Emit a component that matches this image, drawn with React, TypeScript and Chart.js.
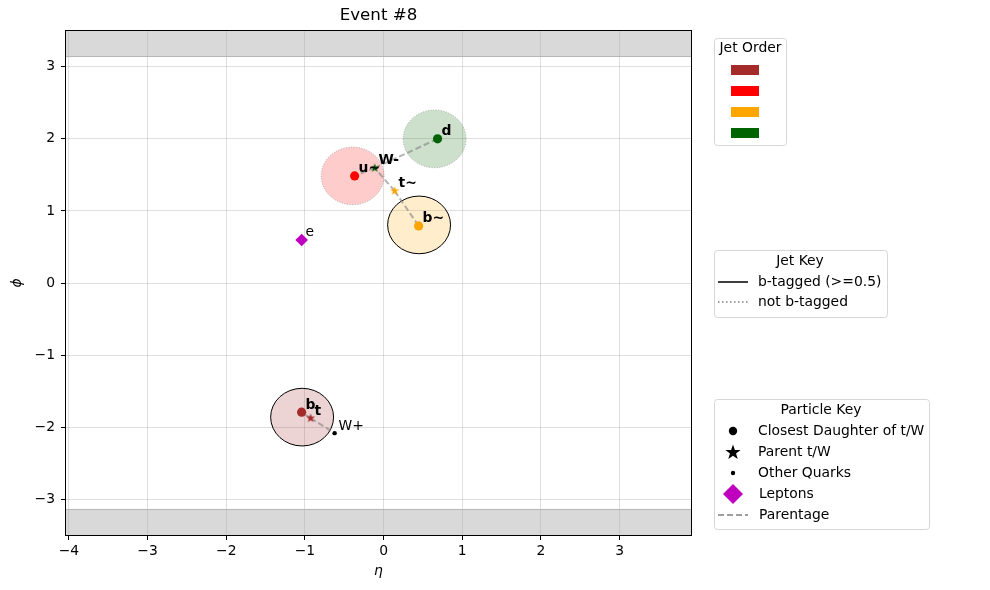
import React, { useEffect, useRef } from 'react';
import { Chart, registerables } from 'chart.js';

Chart.register(...registerables);

const FONT = '"DejaVu Sans", sans-serif';

// ---- Data ----
const title = 'Event #8';
const xTicks = [-4, -3, -2, -1, 0, 1, 2, 3];
const yTicks = [-3, -2, -1, 0, 1, 2, 3];

const jetEta = [-1.036, -0.394, 0.451, 0.648];
const jetPhi = [-1.861, 1.486, 0.806, 2.0];
const jetBTagged = [true, false, true, false];
const jetColors = ['#a52a2a', '#ff0000', '#ffa500', '#006400'];
const jetFills = ['rgba(165,42,42,0.2)', 'rgba(255,0,0,0.2)', 'rgba(255,165,0,0.2)', 'rgba(0,100,0,0.2)'];
const jetRadius = 0.4;

const daughterNames = ['b', 'u~', 'b~', 'd'];
const daughterEta = [-1.042, -0.368, 0.445, 0.686];
const daughterPhi = [-1.792, 1.486, 0.792, 2.0];

const parentNames = ['t', 'W-', 't~'];
const parentEta = [-0.928, -0.114, 0.14];
const parentPhi = [-1.875, 1.597, 1.278];
const parentColors = ['#a52a2a', '#006400', '#ffa500'];

const otherNames = ['W+'];
const otherEta = [-0.623];
const otherPhi = [-2.083];

const leptonNames = ['e'];
const leptonEta = [-1.042];
const leptonPhi = [0.597];

const parentageFrom = ['t', 't', 't~', 't~', 'W-', 'W-'];
const parentageTo = ['b', 'W+', 'b~', 'W-', 'u~', 'd'];

const jetKeyLabels = ['b-tagged (>=0.5)', 'not b-tagged'];
const particleKeyLabels = ['Closest Daughter of t/W', 'Parent t/W', 'Other Quarks', 'Leptons', 'Parentage'];

// ---- helpers ----
function drawStar(ctx: CanvasRenderingContext2D, x: number, y: number, r: number, color: string) {
  ctx.beginPath();
  for (let i = 0; i < 10; i++) {
    const a = -Math.PI / 2 + (i * Math.PI) / 5;
    const rr = i % 2 === 0 ? r : r * 0.4;
    ctx.lineTo(x + rr * Math.cos(a), y + rr * Math.sin(a));
  }
  ctx.closePath();
  ctx.fillStyle = color;
  ctx.fill();
}

function starCanvas(r: number, color: string) {
  const s = Math.ceil(r * 2 + 2);
  const c = document.createElement('canvas');
  c.width = s;
  c.height = s;
  const ctx = c.getContext('2d')!;
  drawStar(ctx, s / 2, s / 2, r, color);
  return c;
}

function roundRect(ctx: CanvasRenderingContext2D, x: number, y: number, w: number, h: number, r: number) {
  ctx.beginPath();
  ctx.moveTo(x + r, y);
  ctx.lineTo(x + w - r, y);
  ctx.arcTo(x + w, y, x + w, y + r, r);
  ctx.lineTo(x + w, y + h - r);
  ctx.arcTo(x + w, y + h, x + w - r, y + h, r);
  ctx.lineTo(x + r, y + h);
  ctx.arcTo(x, y + h, x, y + h - r, r);
  ctx.lineTo(x, y + r);
  ctx.arcTo(x, y, x + r, y, r);
  ctx.closePath();
}

const fmt = (v: number) => (v < 0 ? '\u2212' + Math.abs(v) : String(v));

export default function App() {
  const ref = useRef<HTMLCanvasElement | null>(null);

  useEffect(() => {
    const canvas = ref.current!;
    const pos: Record<string, { x: number; y: number }> = {};
    daughterNames.forEach((n, i) => (pos[n] = { x: daughterEta[i], y: daughterPhi[i] }));
    parentNames.forEach((n, i) => (pos[n] = { x: parentEta[i], y: parentPhi[i] }));
    otherNames.forEach((n, i) => (pos[n] = { x: otherEta[i], y: otherPhi[i] }));
    leptonNames.forEach((n, i) => (pos[n] = { x: leptonEta[i], y: leptonPhi[i] }));

    const lineSets = parentageFrom.map((f, i) => ({
      label: 'parentage',
      data: [pos[f], pos[parentageTo[i]]],
      showLine: true,
      pointRadius: 0,
      borderColor: 'rgba(128,128,128,0.6)',
      borderWidth: 2,
      borderDash: [6, 3],
      order: 5,
    }));

    const bandPlugin = {
      id: 'bands',
      beforeDraw(chart: any) {
        const { ctx, chartArea: a, scales } = chart;
        const y = scales.y;
        const pTop = y.getPixelForValue(Math.PI);
        const pBot = y.getPixelForValue(-Math.PI);
        ctx.save();
        ctx.fillStyle = 'rgba(128,128,128,0.3)';
        ctx.fillRect(a.left, a.top, a.right - a.left, pTop - a.top);
        ctx.fillRect(a.left, pBot, a.right - a.left, a.bottom - pBot);
        ctx.strokeStyle = 'rgba(128,128,128,0.5)';
        ctx.lineWidth = 1;
        ctx.beginPath();
        ctx.moveTo(a.left, pTop);
        ctx.lineTo(a.right, pTop);
        ctx.moveTo(a.left, pBot);
        ctx.lineTo(a.right, pBot);
        ctx.stroke();
        ctx.restore();
      },
    };

    const jetPlugin = {
      id: 'jets',
      beforeDatasetsDraw(chart: any) {
        const { ctx, chartArea: a, scales } = chart;
        const xs = scales.x, ys = scales.y;
        ctx.save();
        ctx.beginPath();
        ctx.rect(a.left, a.top, a.right - a.left, a.bottom - a.top);
        ctx.clip();
        jetEta.forEach((eta, i) => {
          const cx = xs.getPixelForValue(eta);
          const cy = ys.getPixelForValue(jetPhi[i]);
          const rx = Math.abs(xs.getPixelForValue(eta + jetRadius) - cx);
          const ry = Math.abs(ys.getPixelForValue(jetPhi[i] + jetRadius) - cy);
          ctx.beginPath();
          ctx.ellipse(cx, cy, rx, ry, 0, 0, Math.PI * 2);
          ctx.fillStyle = jetFills[i];
          ctx.fill();
          if (jetBTagged[i]) {
            ctx.setLineDash([]);
            ctx.strokeStyle = '#000';
            ctx.lineWidth = 1;
          } else {
            ctx.setLineDash([1, 1.6]);
            ctx.strokeStyle = 'rgba(128,128,128,0.6)';
            ctx.lineWidth = 1;
          }
          ctx.stroke();
        });
        ctx.restore();
      },
    };

    const labelPlugin = {
      id: 'labels',
      afterDatasetsDraw(chart: any) {
        const { ctx, chartArea: a, scales } = chart;
        const xs = scales.x, ys = scales.y;
        ctx.save();
        ctx.fillStyle = '#000';
        ctx.textBaseline = 'alphabetic';
        ctx.textAlign = 'left';
        const put = (n: string, eta: number, phi: number, bold: boolean) => {
          ctx.font = (bold ? 'bold ' : '') + '13.9px ' + FONT;
          ctx.fillText(n, xs.getPixelForValue(eta + 0.05), ys.getPixelForValue(phi + 0.05));
        };
        daughterNames.forEach((n, i) => put(n, daughterEta[i], daughterPhi[i], true));
        parentNames.forEach((n, i) => put(n, parentEta[i], parentPhi[i], true));
        otherNames.forEach((n, i) => put(n, otherEta[i], otherPhi[i], false));
        leptonNames.forEach((n, i) => put(n, leptonEta[i], leptonPhi[i], false));
        // frame
        ctx.strokeStyle = '#000';
        ctx.lineWidth = 1;
        ctx.strokeRect(a.left + 0.5, a.top + 0.5, a.right - a.left - 1, a.bottom - a.top - 1);
        ctx.restore();
      },
    };

    const legendPlugin = {
      id: 'customLegends',
      afterDraw(chart: any) {
        const ctx: CanvasRenderingContext2D = chart.ctx;
        ctx.save();
        const box = (x: number, y: number, w: number, h: number) => {
          roundRect(ctx, x + 0.5, y + 0.5, w, h, 3);
          ctx.fillStyle = 'rgba(255,255,255,0.8)';
          ctx.fill();
          ctx.strokeStyle = '#d6d6d6';
          ctx.lineWidth = 1;
          ctx.setLineDash([]);
          ctx.stroke();
        };
        const text = (t: string, x: number, y: number, align: CanvasTextAlign) => {
          ctx.font = '13.9px ' + FONT;
          ctx.fillStyle = '#000';
          ctx.textAlign = align;
          ctx.textBaseline = 'middle';
          ctx.fillText(t, x, y);
        };
        // Jet Order
        box(714, 38, 72, 107);
        text('Jet Order', 750.5, 48, 'center');
        jetColors.forEach((c, i) => {
          ctx.fillStyle = c;
          ctx.fillRect(731, 65 + i * 21, 28, 10);
        });
        // Jet Key
        box(714, 250, 173, 67);
        text('Jet Key', 800, 261, 'center');
        ctx.strokeStyle = '#000';
        ctx.lineWidth = 1.5;
        ctx.beginPath();
        ctx.moveTo(718, 282);
        ctx.lineTo(748, 282);
        ctx.stroke();
        text(jetKeyLabels[0], 758, 282, 'left');
        ctx.strokeStyle = '#808080';
        ctx.lineWidth = 1.5;
        ctx.setLineDash([1.5, 2.5]);
        ctx.beginPath();
        ctx.moveTo(718, 302);
        ctx.lineTo(748, 302);
        ctx.stroke();
        ctx.setLineDash([]);
        text(jetKeyLabels[1], 758, 302, 'left');
        // Particle Key
        box(714, 399, 215, 130);
        text('Particle Key', 821, 410, 'center');
        const rows = [431, 452, 473, 494, 515];
        ctx.fillStyle = '#000';
        ctx.beginPath();
        ctx.arc(733, rows[0], 4.2, 0, Math.PI * 2);
        ctx.fill();
        drawStar(ctx, 733, rows[1] + 0.5, 8, '#000');
        ctx.fillStyle = '#000';
        ctx.beginPath();
        ctx.arc(733, rows[2], 2.2, 0, Math.PI * 2);
        ctx.fill();
        ctx.fillStyle = '#bf00bf';
        ctx.beginPath();
        ctx.moveTo(733, rows[3] - 10);
        ctx.lineTo(743, rows[3]);
        ctx.lineTo(733, rows[3] + 10);
        ctx.lineTo(723, rows[3]);
        ctx.closePath();
        ctx.fill();
        ctx.strokeStyle = '#808080';
        ctx.lineWidth = 1.5;
        ctx.setLineDash([6, 3]);
        ctx.beginPath();
        ctx.moveTo(718, rows[4]);
        ctx.lineTo(748, rows[4]);
        ctx.stroke();
        ctx.setLineDash([]);
        particleKeyLabels.forEach((l, i) => text(l, i >= 3 ? 759 : 758, rows[i], 'left'));
        ctx.restore();
      },
    };

    const tickFont = { family: FONT, size: 13.9 };

    const chart = new Chart(canvas, {
      type: 'scatter',
      data: {
        datasets: [
          {
            label: 'daughters',
            data: daughterEta.map((x, i) => ({ x, y: daughterPhi[i] })),
            pointRadius: 4.6,
            pointBackgroundColor: jetColors,
            pointBorderWidth: 0,
            order: 1,
          },
          {
            label: 'parents',
            data: parentEta.map((x, i) => ({ x, y: parentPhi[i] })),
            pointStyle: parentColors.map((c) => starCanvas(4.8, c)),
            pointRadius: 5,
            order: 1,
          },
          {
            label: 'others',
            data: otherEta.map((x, i) => ({ x, y: otherPhi[i] })),
            pointRadius: 2.2,
            pointBackgroundColor: '#000',
            pointBorderWidth: 0,
            order: 1,
          },
          {
            label: 'leptons',
            data: leptonEta.map((x, i) => ({ x, y: leptonPhi[i] })),
            pointStyle: 'rectRot',
            pointRadius: 6.3,
            pointBackgroundColor: '#bf00bf',
            pointBorderWidth: 0,
            order: 1,
          },
          ...lineSets,
        ] as any,
      },
      options: {
        animation: false,
        responsive: false,
        events: [],
        layout: { padding: { left: 0, top: 0, right: 298, bottom: 0 } },
        plugins: {
          legend: { display: false },
          tooltip: { enabled: false },
          title: {
            display: true,
            text: title,
            fullSize: false,
            color: '#000',
            font: { family: FONT, size: 16.67, weight: 'normal' },
            padding: { top: 6, bottom: 4 },
          },
        },
        scales: {
          x: {
            type: 'linear',
            min: -4.05,
            max: 3.92,
            afterFit: (s: any) => {
              s.height = 54;
            },
            afterBuildTicks: (s: any) => {
              s.ticks = xTicks.map((v) => ({ value: v }));
            },
            ticks: { font: tickFont, color: '#000', padding: 3, callback: (v: any) => fmt(Number(v)), maxRotation: 0 },
            grid: { color: 'rgba(176,176,176,0.5)', lineWidth: 0.8, tickLength: 4, tickColor: '#000', tickWidth: 1 },
            border: { display: false },
            title: { display: true, text: 'η', color: '#000', font: { family: FONT, size: 13.9, style: 'italic' }, padding: { top: 0, bottom: 10.6 } },
          },
          y: {
            type: 'linear',
            min: -3.51,
            max: 3.51,
            afterFit: (s: any) => {
              s.width = 65;
            },
            afterBuildTicks: (s: any) => {
              s.ticks = yTicks.map((v) => ({ value: v }));
            },
            ticks: { font: tickFont, color: '#000', padding: 6, callback: (v: any) => fmt(Number(v)) },
            grid: { color: 'rgba(176,176,176,0.5)', lineWidth: 0.8, tickLength: 4, tickColor: '#000', tickWidth: 1 },
            border: { display: false },
            title: { display: true, text: 'ϕ', color: '#000', font: { family: FONT, size: 13.9, style: 'italic' }, padding: { top: 8.6, bottom: 0 } },
          },
        },
      } as any,
      plugins: [bandPlugin, jetPlugin, labelPlugin, legendPlugin],
    });
    return () => chart.destroy();
  }, []);

  return (
    <div style={{ position: 'absolute', left: 0, top: 0, width: 990, height: 590, background: '#fff' }}>
      <canvas ref={ref} width={990} height={590} style={{ display: 'block' }} />
    </div>
  );
}
